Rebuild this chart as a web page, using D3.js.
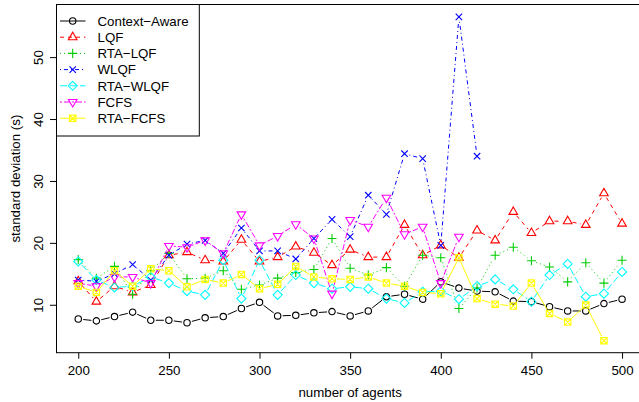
<!DOCTYPE html>
<html><head><meta charset="utf-8">
<script src="https://cdn.jsdelivr.net/npm/d3@7"></script>
<style>
html,body{margin:0;padding:0;background:#fff;}
svg{display:block;}
text{font-family:"Liberation Sans",Arial,Helvetica,sans-serif;fill:#000;}
</style></head>
<body>
<svg id="chart" width="639" height="402"></svg>
<script>
const agents = [200,210,220,230,240,250,260,270,280,290,300,310,320,330,340,350,360,370,380,390,400,410,420,430,440,450,460,470,480,490,500];
const contextAware = [7.7,7.4,8.1,8.8,7.5,7.5,7.1,7.9,8.1,9.4,10.4,8.2,8.3,8.7,8.9,8.2,9.0,11.3,11.7,10.9,13.7,12.7,12.2,12.1,10.6,10.5,9.7,9.0,9.0,10.2,10.9];
const lqf = [13.8,10.5,13.0,12.0,13.2,18.0,18.5,17.2,17.0,20.5,17.0,17.7,19.4,18.4,16.4,18.9,17.7,17.7,22.9,18.0,19.6,17.6,22.0,20.4,25.0,21.6,23.5,23.5,22.9,28.0,23.1];
const rtaLqf = [17.3,14.3,16.2,11.7,15.5,18.3,14.2,14.3,15.5,12.5,13.2,14.3,15.2,15.7,20.7,15.9,14.8,16.0,13.0,18.0,17.6,9.4,12.7,18.0,19.3,17.1,16.1,13.7,16.8,13.5,17.2];
const wlqf = [14.0,13.8,15.0,16.5,14.0,18.0,19.8,20.4,18.3,22.4,18.7,18.7,17.4,20.7,23.8,21.0,27.7,24.6,34.4,33.6,19.6,56.5,34.0,null,null,null,null,null,null,null,null];
const rtaWlqf = [17.0,14.0,12.8,13.0,14.5,13.5,12.2,11.6,17.2,11.0,17.2,11.6,14.8,13.5,12.6,12.9,12.6,11.0,10.3,12.1,12.2,10.9,13.0,14.1,12.5,10.5,14.8,16.6,11.3,11.8,15.3];
const fcfs = [13.5,13.0,14.5,14.5,13.5,19.5,19.3,20.4,18.3,24.6,19.6,21.1,23.0,20.7,11.8,23.7,22.6,27.3,21.4,22.6,13.5,21.0,null,null,null,null,null,null,null,null,null];
const rtaFcfs = [13.0,12.0,15.5,13.0,15.8,15.5,12.9,14.1,13.5,14.9,12.6,13.3,16.2,14.5,14.2,14.1,14.5,13.5,13.0,12.0,11.8,17.6,11.0,10.1,9.8,13.5,8.6,7.2,9.95,4.2,null];

const seriesNames = ["Context\u2212Aware","LQF","RTA\u2212LQF","WLQF","RTA\u2212WLQF","FCFS","RTA\u2212FCFS"];
const seriesColors = ["#000000","#FF0000","#00CD00","#0000FF","#00FFFF","#FF00FF","#FFFF00"];
const seriesDash = [null,"4,4","1,3","1,3,4,3","7,3","2,2,6,2",null];
const seriesShapes = ["circle","triUp","plus","cross","diamond","triDown","boxX"];
const xTicks = [200,250,300,350,400,450,500];
const yTicks = [10,20,30,40,50];
const xLabel = "number of agents";
const yLabel = "standard deviation (s)";

const seriesData = [contextAware,lqf,rtaLqf,wlqf,rtaWlqf,fcfs,rtaFcfs];

const svg = d3.select("#chart");
const L = 56.5, R = 643.8, T = 4.5, B = 352.7;
const x = d3.scaleLinear().domain([188,512]).range([L,R]);
const y = d3.scaleLinear().domain([2.26,58.5]).range([B,T]);

const FS = 13.3;
const xc = 3.2;
const GAP = 5;

function symbolPath(shape, cx, cy){
  const p = d3.path();
  if(shape==="circle"){ p.arc(cx,cy,xc,0,2*Math.PI); p.closePath(); }
  else if(shape==="triUp" || shape==="triDown"){
    const r = 1.5551*xc, h = 1.3468*xc, yc = 0.7776*xc;
    const s = shape==="triUp" ? 1 : -1;
    p.moveTo(cx, cy - s*r); p.lineTo(cx+h, cy + s*yc); p.lineTo(cx-h, cy + s*yc); p.closePath();
  }
  else if(shape==="plus"){ const a = 1.4142*xc; p.moveTo(cx-a,cy); p.lineTo(cx+a,cy); p.moveTo(cx,cy-a); p.lineTo(cx,cy+a); }
  else if(shape==="cross"){ const a = xc; p.moveTo(cx-a,cy-a); p.lineTo(cx+a,cy+a); p.moveTo(cx-a,cy+a); p.lineTo(cx+a,cy-a); }
  else if(shape==="diamond"){ const a = 1.4142*xc; p.moveTo(cx,cy-a); p.lineTo(cx+a,cy); p.lineTo(cx,cy+a); p.lineTo(cx-a,cy); p.closePath(); }
  else if(shape==="boxX"){ const a = xc; p.rect(cx-a,cy-a,2*a,2*a); p.moveTo(cx-a,cy-a); p.lineTo(cx+a,cy+a); p.moveTo(cx-a,cy+a); p.lineTo(cx+a,cy-a); }
  return p.toString();
}

const clip = svg.append("clipPath").attr("id","clp").append("rect").attr("x",L).attr("y",T).attr("width",R-L).attr("height",B-T);
const plot = svg.append("g").attr("clip-path","url(#clp)");

seriesData.forEach((vals,i)=>{
  const pts = agents.map((a,j)=>({a, v: vals[j]}));
  const segs = [];
  for(let j=0;j<pts.length-1;j++){
    if(pts[j].v==null || pts[j+1].v==null) continue;
    const x1=x(pts[j].a), y1=y(pts[j].v), x2=x(pts[j+1].a), y2=y(pts[j+1].v);
    const d=Math.hypot(x2-x1,y2-y1);
    if(d<=2*GAP) continue;
    const ux=(x2-x1)/d, uy=(y2-y1)/d;
    segs.push([x1+ux*GAP,y1+uy*GAP,x2-ux*GAP,y2-uy*GAP]);
  }
  const g = plot.append("g");
  g.selectAll("line").data(segs).join("line")
    .attr("x1",d=>d[0]).attr("y1",d=>d[1]).attr("x2",d=>d[2]).attr("y2",d=>d[3])
    .attr("stroke", seriesColors[i]).attr("stroke-width",1)
    .attr("stroke-dasharray", seriesDash[i]);
  g.selectAll("path.sym").data(pts.filter(d=>d.v!=null)).join("path").attr("class","sym")
    .attr("d", d=>symbolPath(seriesShapes[i], x(d.a), y(d.v)))
    .attr("fill", "none")
    .attr("stroke", seriesColors[i]).attr("stroke-width",1.1);
});

// box
svg.append("rect").attr("x",L).attr("y",T).attr("width",R-L).attr("height",B-T)
  .attr("fill","none").attr("stroke","#000").attr("stroke-width",1);

// x axis
const xa = svg.append("g").attr("transform",`translate(0,${B})`)
  .call(d3.axisBottom(x).tickValues(xTicks).tickSize(6).tickPadding(7).tickFormat(d3.format("d")));
xa.select(".domain").remove();
xa.selectAll("text").attr("font-size",FS).attr("font-family","Liberation Sans, Arial, sans-serif").attr("fill","#000");
xa.selectAll("line").attr("stroke","#000");

// y axis
const ya = svg.append("g").attr("transform",`translate(${L},0)`)
  .call(d3.axisLeft(y).tickValues(yTicks).tickSize(6.5).tickFormat(d3.format("d")));
ya.select(".domain").remove();
ya.selectAll("line").attr("stroke","#000");
ya.selectAll("text")
  .attr("font-size",FS).attr("font-family","Liberation Sans, Arial, sans-serif").attr("fill","#000")
  .attr("text-anchor","middle").attr("dy",null).attr("x",null)
  .attr("transform","translate(-14,0) rotate(-90)");

// axis titles
svg.append("text").attr("x",(L+R)/2).attr("y",397).attr("text-anchor","middle").attr("font-size",FS).text(xLabel);
svg.append("text").attr("transform",`translate(19.5,${(T+B)/2}) rotate(-90)`).attr("text-anchor","middle").attr("font-size",FS).text(yLabel);

// legend
const lg = svg.append("g");
lg.append("rect").attr("x",L).attr("y",T).attr("width",199.3-L).attr("height",136-T)
  .attr("fill","#fff").attr("stroke","#000").attr("stroke-width",1);
seriesNames.forEach((n,i)=>{
  const ry = 21 + i*16.2;
  lg.append("line").attr("x1",60).attr("x2",85.5).attr("y1",ry).attr("y2",ry)
    .attr("stroke",seriesColors[i]).attr("stroke-width",1).attr("stroke-dasharray",seriesDash[i]);
  lg.append("path").attr("d",symbolPath(seriesShapes[i],72.7,ry))
    .attr("fill", "none")
    .attr("stroke",seriesColors[i]).attr("stroke-width",1.1);
  lg.append("text").attr("x",97.5).attr("y",ry+4.8).attr("font-size",FS).text(n);
});
</script>
</body></html>
